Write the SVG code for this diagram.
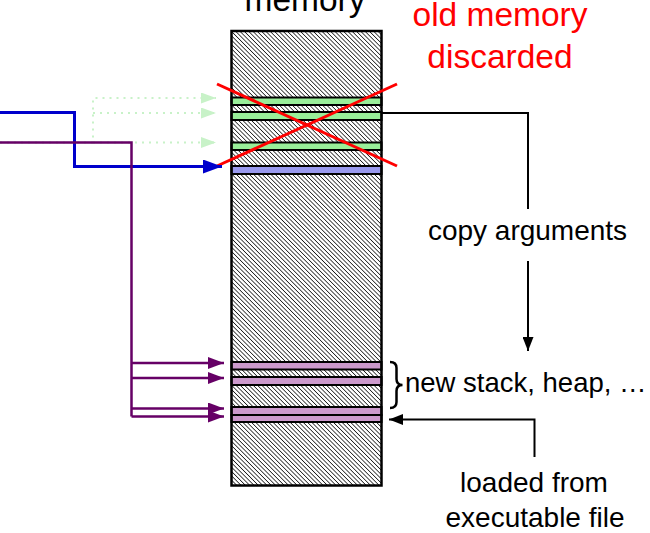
<svg xmlns="http://www.w3.org/2000/svg" width="650" height="533" viewBox="0 0 650 533">
  <defs>
    <pattern id="hatch" patternUnits="userSpaceOnUse" width="3.05" height="3.05" patternTransform="rotate(-45)">
      <line x1="1.5" y1="-1" x2="1.5" y2="4.1" stroke="#000" stroke-width="0.9" shape-rendering="crispEdges"/>
    </pattern>
    <marker id="ah-black" markerUnits="userSpaceOnUse" markerWidth="15" markerHeight="11" refX="14" refY="5.5" orient="auto">
      <path d="M0,0 L14,5.5 L0,11 z" fill="#000"/>
    </marker>
    <marker id="ah-blue" markerUnits="userSpaceOnUse" markerWidth="20" markerHeight="14" refX="19" refY="7" orient="auto">
      <path d="M0,0 L19,7 L0,14 z" fill="#0000cc"/>
    </marker>
    <marker id="ah-purple" markerUnits="userSpaceOnUse" markerWidth="17" markerHeight="12" refX="16" refY="6" orient="auto">
      <path d="M0,0 L16,6 L0,12 z" fill="#660066"/>
    </marker>
    <marker id="ah-green" markerUnits="userSpaceOnUse" markerWidth="16" markerHeight="11" refX="15" refY="5.5" orient="auto">
      <path d="M0,0 L15,5.5 L0,11 z" fill="#c8f2c8"/>
    </marker>
    <style>
      .lbl { font-family: "Liberation Sans", Arial, sans-serif; fill: #000; }
      .big { font-size: 33.5px; }
      .small { font-size: 28px; }
      .red { fill: #ff0000; }
      .band { stroke: #000; stroke-width: 2; }
      .green { fill: #99ee99; }
      .blue { fill: #9999ee; }
      .pink { fill: #cc99cc; }
      .conn { fill: none; stroke-linejoin: miter; }
    </style>
  </defs>

  <rect width="650" height="533" fill="#fff"/>

  <!-- address space column -->
  <g id="memory">
    <rect x="231.5" y="31" width="150" height="454.5" fill="url(#hatch)" stroke="none"/>
    <g id="old-regions">
      <rect class="band green" x="231.5" y="97.5" width="150" height="7.5"/>
      <rect class="band green" x="231.5" y="112" width="150" height="8"/>
      <rect class="band green" x="231.5" y="142.5" width="150" height="7.5"/>
      <rect class="band blue" x="231.5" y="166" width="150" height="8"/>
    </g>
    <g id="new-regions">
      <rect class="band pink" x="231.5" y="362" width="150" height="7.5"/>
      <rect class="band pink" x="231.5" y="377" width="150" height="8"/>
      <rect class="band pink" x="231.5" y="407" width="150" height="8"/>
      <rect class="band pink" x="231.5" y="415" width="150" height="7"/>
    </g>
    <rect x="231.5" y="31" width="150" height="454.5" fill="none" stroke="#000" stroke-width="2.5"/>
    <text class="lbl big" x="305" y="11" text-anchor="middle">memory</text>
  </g>

  <!-- cross over the discarded regions -->
  <g id="discard-mark">
    <line x1="217" y1="84" x2="397" y2="166" stroke="#ff0000" stroke-width="3"/>
    <line x1="217" y1="166" x2="397" y2="84" stroke="#ff0000" stroke-width="3"/>
    <text class="lbl big red" x="500" y="26" text-anchor="middle">old memory</text>
    <text class="lbl big red" x="500" y="68" text-anchor="middle">discarded</text>
  </g>

  <g id="connectors">
    <!-- faded references into the old regions -->
    <g stroke="#c8f2c8" stroke-width="2" stroke-dasharray="2 5" class="conn">
      <path d="M0,142.5 H93 V98 H216" marker-end="url(#ah-green)"/>
      <path d="M93,113 H216" marker-end="url(#ah-green)"/>
      <path d="M93,142.5 H216" marker-end="url(#ah-green)"/>
    </g>
    <path class="conn" d="M0,112.5 H74.5 V166.5 H222" stroke="#0000cc" stroke-width="3" marker-end="url(#ah-blue)"/>
    <g stroke="#660066" stroke-width="2.5" class="conn">
      <path d="M0,142.5 H131.5 V416.5"/>
      <path d="M131.5,363 H224" marker-end="url(#ah-purple)"/>
      <path d="M131.5,378 H224" marker-end="url(#ah-purple)"/>
      <path d="M131.5,408.5 H224" marker-end="url(#ah-purple)"/>
      <path d="M131.5,416.5 H224" marker-end="url(#ah-purple)"/>
    </g>
    <g stroke="#000" stroke-width="2" class="conn">
      <path d="M381.5,113 H528 V209"/>
      <path d="M528,261 V351" marker-end="url(#ah-black)"/>
      <path d="M534.5,457 V419.5 H389" marker-end="url(#ah-black)"/>
    </g>
    <!-- brace grouping the new regions -->
    <path class="conn" d="M390,362 Q396.5,362 396.5,368 L396.5,379 Q396.5,385 402.5,385 Q396.5,385 396.5,391 L396.5,402 Q396.5,408 390,408" stroke="#000" stroke-width="2.5"/>
  </g>

  <g id="labels">
    <text class="lbl small" x="527.5" y="240" text-anchor="middle">copy arguments</text>
    <text class="lbl small" x="405" y="392" style="font-size:27.5px">new stack, heap, …</text>
    <text class="lbl small" x="534" y="492" text-anchor="middle">loaded from</text>
    <text class="lbl small" x="535" y="527" text-anchor="middle">executable file</text>
  </g>
</svg>
